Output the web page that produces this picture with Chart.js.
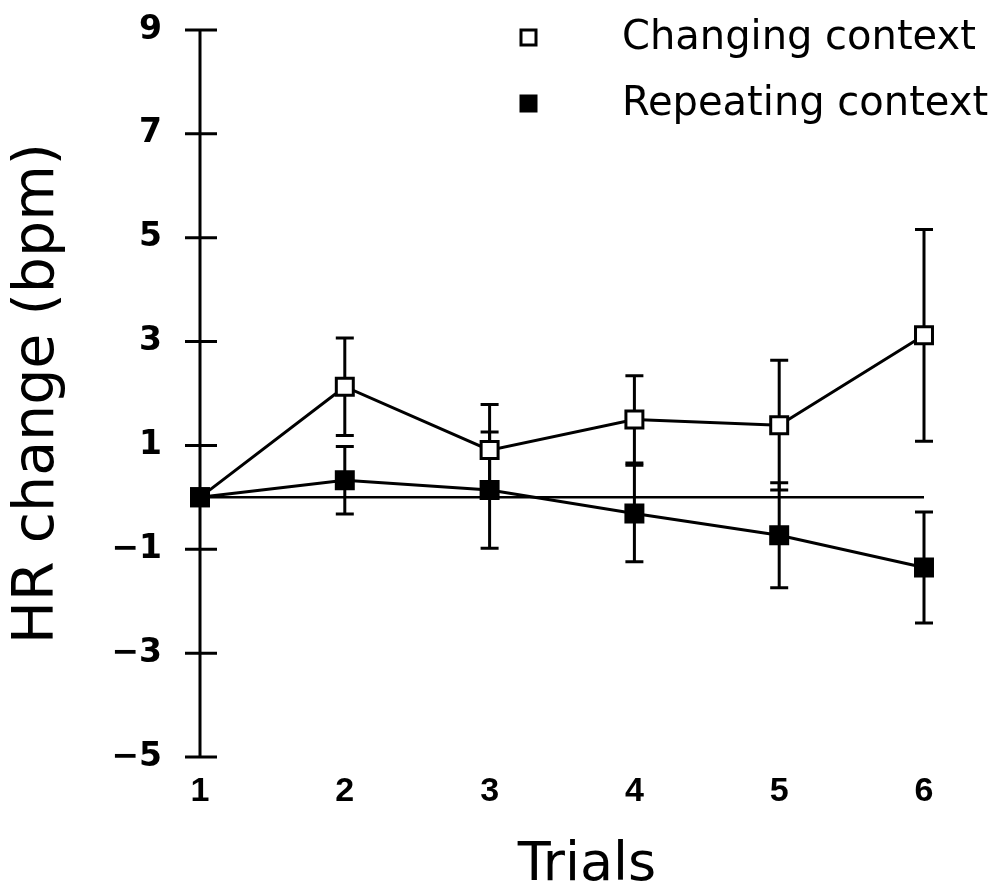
<!DOCTYPE html>
<html>
<head>
<meta charset="utf-8">
<script src="https://cdn.jsdelivr.net/npm/chart.js@4.4.0/dist/chart.umd.min.js"></script>
<style>
  html, body { margin: 0; padding: 0; background: #fff; }
  #wrap { width: 1006px; height: 895px; }
</style>
</head>
<body>
<div id="wrap"><canvas id="hrChart" width="1006" height="895"></canvas></div>
<script>
// values (bpm), error = +/- SE
const trials = ["1", "2", "3", "4", "5", "6"];
const changingMean = [0, 2.13, 0.91, 1.50, 1.39, 3.12];
const changingErr = [0, 0.94, 0.88, 0.84, 1.25, 2.04];
const repeatingMean = [0, 0.33, 0.14, -0.31, -0.73, -1.35];
const repeatingErr = [0, 0.65, 1.12, 0.93, 1.01, 1.07];
const zeroLine = [0, 0, 0, 0, 0, 0];
const yMin = -5;
const yMax = 9;
const yStep = 2;

const legendItems = [
  { label: "Changing context", fill: "#fff" },
  { label: "Repeating context", fill: "#000" },
];

// axis line with ticks crossing it
const crossAxis = {
  id: "crossAxis",
  beforeDatasetsDraw(chart) {
    const { ctx, chartArea, scales: { y } } = chart;
    const x0 = chartArea.left;
    ctx.save();
    ctx.strokeStyle = "#000";
    ctx.lineWidth = 3;
    ctx.beginPath();
    ctx.moveTo(x0, y.getPixelForValue(yMax));
    ctx.lineTo(x0, y.getPixelForValue(yMin));
    y.ticks.forEach((t) => {
      const py = y.getPixelForValue(t.value);
      ctx.moveTo(x0 - 15, py);
      ctx.lineTo(x0 + 17, py);
    });
    ctx.stroke();
    ctx.restore();
  },
};

const errorBars = {
  id: "errorBars",
  beforeDatasetsDraw(chart) {
    const { ctx, scales: { x, y } } = chart;
    ctx.save();
    ctx.strokeStyle = "#000";
    ctx.lineWidth = 3;
    [[changingMean, changingErr], [repeatingMean, repeatingErr]].forEach(([means, errs]) => {
      means.forEach((m, i) => {
        if (!errs[i]) return;
        const px = x.getPixelForValue(i);
        const top = y.getPixelForValue(m + errs[i]);
        const bot = y.getPixelForValue(m - errs[i]);
        ctx.beginPath();
        ctx.moveTo(px, top);
        ctx.lineTo(px, bot);
        ctx.moveTo(px - 9, top);
        ctx.lineTo(px + 9, top);
        ctx.moveTo(px - 9, bot);
        ctx.lineTo(px + 9, bot);
        ctx.stroke();
      });
    });
    ctx.restore();
  },
};

const legendAndTitle = {
  id: "legendAndTitle",
  afterDraw(chart) {
    const { ctx } = chart;
    ctx.save();
    ctx.fillStyle = "#000";
    ctx.strokeStyle = "#000";
    ctx.lineWidth = 3;
    ctx.font = "40px 'DejaVu Sans'";
    ctx.textAlign = "left";
    ctx.textBaseline = "middle";
    legendItems.forEach((item, i) => {
      const cy = 37 + i * 66;
      ctx.fillStyle = item.fill;
      ctx.fillRect(521, cy - 7, 15, 15);
      ctx.strokeRect(521, cy - 7, 15, 15);
      ctx.fillStyle = "#000";
      ctx.fillText(item.label, 622, cy + 2);
    });
    // x axis title
    ctx.font = "54px 'DejaVu Sans'";
    ctx.textAlign = "center";
    ctx.fillText("Trials", 587, 866);
    ctx.restore();
  },
};

new Chart(document.getElementById("hrChart"), {
  type: "line",
  data: {
    labels: trials,
    datasets: [
      {
        label: "Changing context",
        data: changingMean,
        borderColor: "#000",
        borderWidth: 3,
        pointStyle: "rect",
        pointRadius: 12,
        pointBackgroundColor: "#fff",
        pointBorderColor: "#000",
        pointBorderWidth: 3,
        clip: false,
        order: 1,
      },
      {
        label: "Repeating context",
        data: repeatingMean,
        borderColor: "#000",
        borderWidth: 3,
        pointStyle: "rect",
        pointRadius: 12,
        pointBackgroundColor: "#000",
        pointBorderColor: "#000",
        pointBorderWidth: 3,
        clip: false,
        order: 0,
      },
      {
        label: "zero",
        data: zeroLine,
        borderColor: "#000",
        borderWidth: 2.5,
        pointRadius: 0,
        clip: false,
        order: 2,
      },
    ],
  },
  options: {
    responsive: false,
    animation: false,
    layout: { padding: { top: 30, right: 82, left: 0, bottom: 0 } },
    plugins: {
      legend: { display: false },
      tooltip: { enabled: false },
    },
    scales: {
      x: {
        type: "category",
        offset: false,
        grid: { display: false, drawTicks: true, tickLength: 14 },
        border: { display: false },
        ticks: {
          color: "#000",
          padding: 0,
          maxRotation: 0,
          font: { family: "'Liberation Sans Narrow', 'Liberation Sans'", size: 34, weight: "bold" },
        },
        afterFit: (s) => { s.height = 138; },
      },
      y: {
        min: yMin,
        max: yMax,
        grid: { display: false, drawTicks: true, tickLength: 38 },
        border: { display: false },
        ticks: {
          stepSize: yStep,
          color: "#000",
          padding: 0,
          font: { family: "'DejaVu Sans'", size: 33, weight: "bold" },
          callback: (v) => (v < 0 ? "\u2212" + Math.abs(v) : String(v)),
        },
        title: {
          display: true,
          text: "HR change (bpm)",
          color: "#000",
          padding: { top: 4, bottom: 0 },
          font: { family: "'DejaVu Sans'", size: 57, weight: "normal" },
        },
        afterFit: (s) => { s.width = 200; },
      },
    },
  },
  plugins: [crossAxis, errorBars, legendAndTitle],
});
</script>
</body>
</html>
